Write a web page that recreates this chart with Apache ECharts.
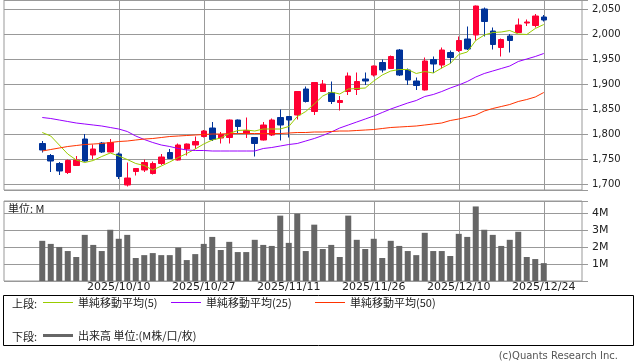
<!DOCTYPE html>
<html><head><meta charset="utf-8">
<script src="https://cdn.jsdelivr.net/npm/echarts@6.0.0/dist/echarts.min.js"></script>
<style>html,body{margin:0;padding:0;background:#fff}#c{width:638px;height:362px}</style>
</head><body><div id="c"></div>
<script>
const dates = [
'2025/09/29','2025/09/30','2025/10/01','2025/10/02','2025/10/03','2025/10/06','2025/10/07','2025/10/08','2025/10/09','2025/10/10',
'2025/10/14','2025/10/15','2025/10/16','2025/10/17','2025/10/20','2025/10/21','2025/10/22','2025/10/23','2025/10/24','2025/10/27',
'2025/10/28','2025/10/29','2025/10/30','2025/10/31','2025/11/04','2025/11/05','2025/11/06','2025/11/07','2025/11/10','2025/11/11',
'2025/11/12','2025/11/13','2025/11/14','2025/11/17','2025/11/18','2025/11/19','2025/11/20','2025/11/21','2025/11/25','2025/11/26',
'2025/11/27','2025/11/28','2025/12/01','2025/12/02','2025/12/03','2025/12/04','2025/12/05','2025/12/08','2025/12/09','2025/12/10',
'2025/12/11','2025/12/12','2025/12/15','2025/12/16','2025/12/17','2025/12/18','2025/12/19','2025/12/22','2025/12/23','2025/12/24'];
const opens  = [1781,1757,1741,1723,1737,1790,1758,1782,1764,1760,1698,1725,1728,1721,1741,1763,1748,1770,1778,1795,
                1812,1792,1793,1828,1801,1793,1788,1798,1833,1835,1838,1890,1845,1885,1883,1863,1885,1889,1910,1918,
                1943,1931,1968,1928,1906,1888,1949,1938,1963,1967,1990,1998,2050,2006,1973,1996,2003,2022,2017,2034];
const closes = [1768,1746,1726,1747,1748,1746,1770,1764,1783,1715,1712,1731,1743,1741,1754,1751,1778,1780,1785,1806,
                1789,1799,1828,1815,1807,1781,1818,1828,1818,1828,1885,1865,1903,1900,1865,1867,1916,1905,1906,1936,
                1928,1955,1918,1908,1897,1946,1940,1968,1953,1987,1970,2056,2025,1979,1989,1987,2018,2024,2036,2028];
const lows   = [1763,1724,1718,1720,1736,1745,1750,1762,1763,1710,1695,1717,1724,1719,1738,1750,1747,1757,1770,1793,
                1786,1781,1781,1801,1792,1755,1787,1796,1787,1793,1829,1863,1838,1884,1860,1847,1878,1878,1898,1915,
                1923,1930,1916,1898,1888,1887,1922,1931,1941,1964,1968,1987,1995,1969,1955,1963,2002,2016,2013,2025];
const highs  = [1786,1760,1744,1749,1756,1800,1779,1784,1790,1763,1743,1732,1749,1745,1760,1770,1781,1781,1795,1808,
                1824,1804,1829,1829,1833,1794,1824,1831,1849,1836,1886,1895,1904,1908,1905,1876,1923,1923,1923,1937,
                1949,1957,1970,1931,1913,1953,1955,1973,1967,1995,2015,2057,2053,2013,1991,2000,2031,2029,2040,2038];
const ma5  = [1803,1796,1778,1760,1748,1743,1747,1755,1762,1756,1749,1741,1737,1728,1736,1744,1753,1761,1770,1780,
              1788,1792,1801,1807,1808,1806,1810,1810,1810,1815,1835,1845,1860,1876,1884,1880,1890,1891,1892,1906,
              1918,1926,1929,1929,1921,1925,1922,1932,1941,1959,1964,1987,1998,2003,2004,2007,2000,1999,2011,2019];
const ma25 = [1833,1831,1828,1825,1822,1820,1818,1816,1813,1810,1805,1796,1789,1783,1778,1775,1771,1768,1767,1767,
              1766,1766,1766,1766,1766,1766,1771,1773,1776,1779,1781,1786,1791,1797,1804,1812,1818,1824,1830,1836,
              1843,1850,1856,1862,1867,1875,1879,1885,1892,1898,1905,1914,1921,1926,1931,1936,1945,1950,1955,1961];
const ma50 = [1766,1769,1772,1775,1777,1779,1780,1781,1783,1785,1786,1788,1790,1791,1793,1795,1796,1797,1798,1799,
              1800,1800,1801,1801,1801,1801,1801,1801,1801,1802,1803,1803,1804,1804,1805,1806,1806,1807,1808,1809,
              1811,1813,1814,1815,1816,1818,1820,1822,1827,1830,1834,1838,1846,1851,1855,1859,1865,1869,1874,1883];
const volume = [2.36,2.18,2.00,1.76,1.41,2.71,2.12,1.76,3.01,2.48,2.71,1.35,1.52,1.64,1.52,1.52,1.96,1.23,1.58,2.18,
                2.59,1.82,2.30,1.70,1.70,2.42,2.12,2.06,3.84,2.24,3.96,1.76,3.31,1.88,2.12,1.41,3.84,2.42,1.88,2.48,
                1.35,2.36,2.06,1.76,1.52,2.83,1.76,1.76,1.47,2.77,2.59,4.38,3.01,2.71,2.06,2.42,2.89,1.41,1.29,1.05];
const dateTickLabels = ['2025/10/10','2025/10/27','2025/11/11','2025/11/26','2025/12/10','2025/12/24'];
const padBefore = ['p0','p1','p2','p3'];
const padAfter = ['q0','q1','q2','q3'];
const categories = padBefore.concat(dates, padAfter);
const seriesNames = ['単純移動平均(5)', '単純移動平均(25)', '単純移動平均(50)', '出来高 単位:(M株/口/枚)'];

const UP = '#ff0033', DOWN = '#003399', C5 = '#99cc00', C25 = '#9900ff', C50 = '#ff3300', VOL = '#666666', GRID = '#999999';
const showDate = (idx, val) => dateTickLabels.indexOf(val) >= 0;
const FONT = '"DejaVu Sans", Verdana, sans-serif';
const JFONT = '"Noto Sans CJK JP", sans-serif';

const chart = echarts.init(document.getElementById('c'), null, {renderer: 'canvas'});
const xBase = (gi, labels) => ({
  type: 'category', gridIndex: gi, data: categories, boundaryGap: true,
  axisLine: {show: false}, axisTick: {show: false},
  axisLabel: labels ? {show: true, interval: showDate, fontSize: 11, color: '#222', margin: 1, fontFamily: FONT} : {show: false},
  splitLine: {show: true, interval: showDate, alignWithLabel: true, lineStyle: {color: GRID, width: 1}}
});
const legendText = (x, y, t) => ({type: 'text', x: x, y: y, style: {text: t, font: '11px ' + JFONT, fill: '#222', verticalAlign: 'middle'}});
const legendItem = (name, left, top, h) => ({
  data: [name], left: left, top: top, padding: 0, icon: 'rect', itemWidth: 30, itemHeight: h, selectedMode: false,
  textStyle: {fontFamily: JFONT, fontSize: 11, color: '#222'}
});
const maSeries = (name, vals, color) => ({
  type: 'line', name: name, xAxisIndex: 0, yAxisIndex: 0, symbol: 'none', z: 5,
  data: dates.map((d, i) => [d, vals[i]]), lineStyle: {color: color, width: 1}, itemStyle: {color: color}
});
const option = {
  animation: false,
  backgroundColor: '#fff',
  grid: [
    {left: 4, top: 0, width: 578, height: 190, show: true, borderColor: GRID, borderWidth: 1, backgroundColor: '#fff'},
    {left: 4, top: 201, width: 578, height: 80, show: true, borderColor: GRID, borderWidth: 1, backgroundColor: '#fff'}
  ],
  legend: [
    legendItem(seriesNames[0], 43, 297, 1),
    legendItem(seriesNames[1], 171, 297, 1),
    legendItem(seriesNames[2], 315, 297, 1),
    legendItem(seriesNames[3], 43, 330, 3)
  ],
  xAxis: [xBase(0, false), xBase(1, true)],
  yAxis: [
    {type: 'value', gridIndex: 0, position: 'right', min: 1688, max: 2068, splitNumber: 8, minInterval: 50, maxInterval: 50,
     axisLine: {show: false}, axisTick: {show: true, length: 6, lineStyle: {color: GRID}},
     axisLabel: {margin: 10, fontSize: 10, color: '#222', fontFamily: FONT,
       formatter: v => (Math.abs(v % 50) < 1e-6 ? Math.round(v).toLocaleString('en-US') : '')},
     splitLine: {show: true, lineStyle: {color: GRID, width: 1}}},
    {type: 'value', gridIndex: 1, position: 'right', min: 0, max: 4.7, splitNumber: 5, minInterval: 1, maxInterval: 1,
     axisLine: {show: false}, axisTick: {show: true, length: 6, lineStyle: {color: GRID}},
     axisLabel: {margin: 10, fontSize: 11, color: '#222', fontFamily: FONT,
       formatter: v => (v > 0 && Math.abs(v - Math.round(v)) < 1e-6 ? Math.round(v) + 'M' : '')},
     splitLine: {show: true, lineStyle: {color: GRID, width: 1}}}
  ],
  series: [
    {type: 'candlestick', name: '株価', xAxisIndex: 0, yAxisIndex: 0, barWidth: 6,
     data: dates.map((d, i) => [d, opens[i], closes[i], lows[i], highs[i]]),
     encode: {x: 0, y: [1, 2, 3, 4]},
     itemStyle: {color: UP, color0: DOWN, borderColor: UP, borderColor0: DOWN, borderWidth: 1}},
    maSeries(seriesNames[0], ma5, C5),
    maSeries(seriesNames[1], ma25, C25),
    maSeries(seriesNames[2], ma50, C50),
    {type: 'bar', name: seriesNames[3], xAxisIndex: 1, yAxisIndex: 1, barWidth: 6,
     data: dates.map((d, i) => [d, volume[i]]), itemStyle: {color: VOL}}
  ],
  graphic: [
    {type: 'text', x: 8, y: 209, style: {text: '単位: M', font: '11px ' + JFONT, fill: '#222', verticalAlign: 'middle'}},
    {type: 'rect', shape: {x: 3.5, y: 295.5, width: 630, height: 50}, style: {fill: 'none', stroke: '#000', lineWidth: 1}},
    legendText(12, 303.5, '上段:'),
    legendText(12, 336.5, '下段:'),
    {type: 'text', x: 618, y: 356, style: {text: '(c)Quants Research Inc.', font: '10px ' + FONT, fill: '#555', align: 'right', verticalAlign: 'middle'}}
  ]
};
chart.setOption(option);
</script></body></html>
